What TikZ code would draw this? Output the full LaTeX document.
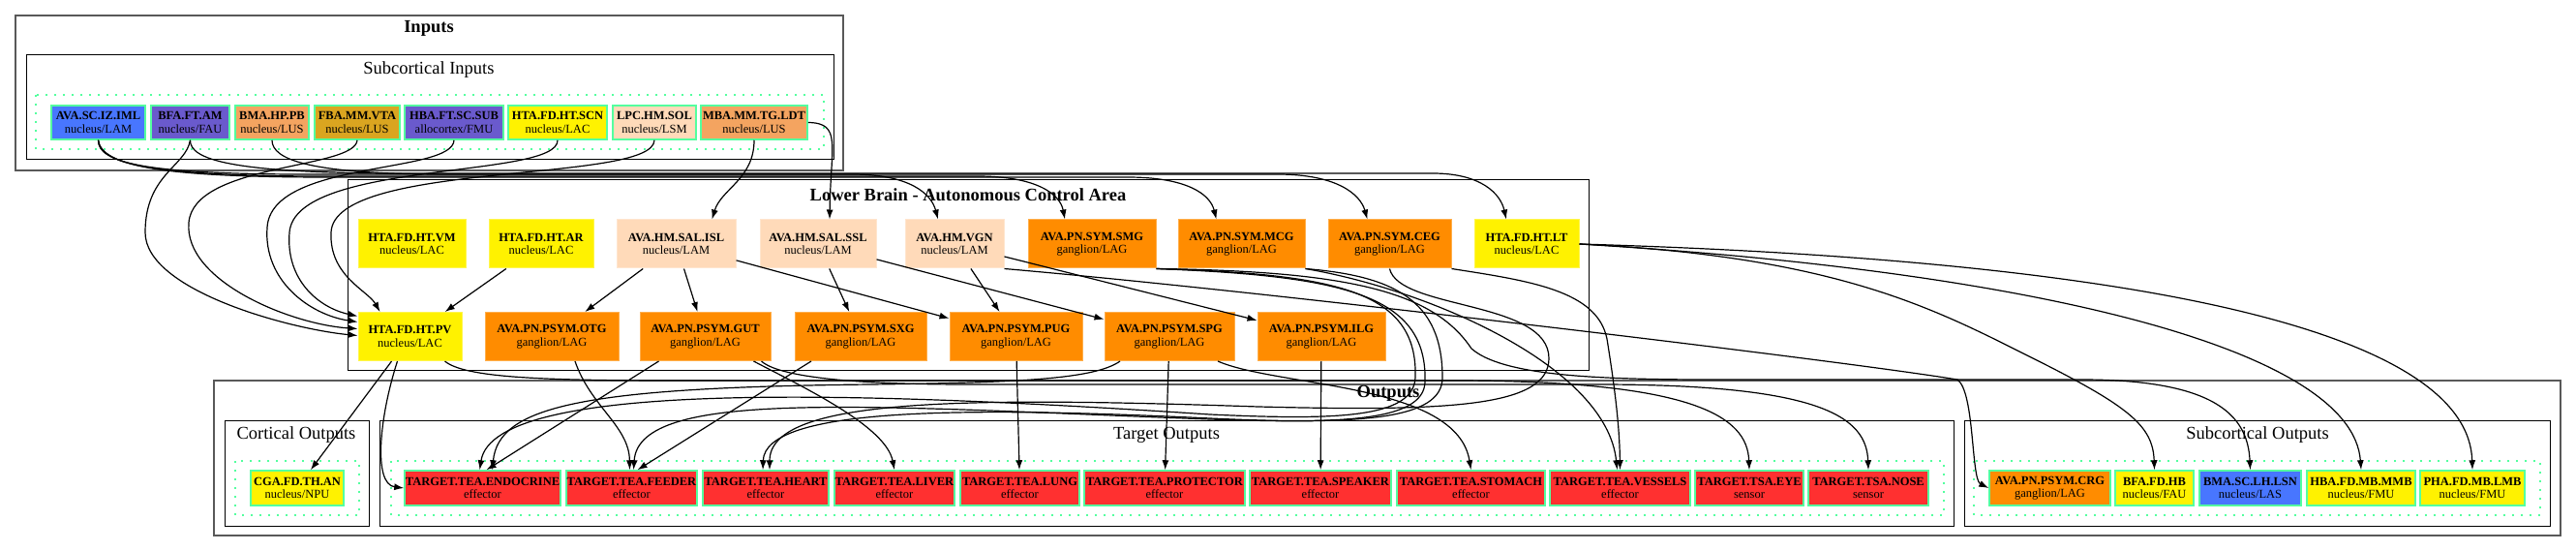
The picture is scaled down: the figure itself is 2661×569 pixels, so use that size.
\documentclass[tikz,border=0pt]{standalone}
\usepackage{fontspec}
\setmainfont{Liberation Serif}
\usepackage{tikz}
\usetikzlibrary{calc,arrows.meta}
\definecolor{royalblue}{HTML}{4876FF}
\definecolor{slateblue}{HTML}{6A5ACD}
\definecolor{sandybrown}{HTML}{F4A460}
\definecolor{goldenrod}{HTML}{DAA520}
\definecolor{peachpuff}{HTML}{FFDAB9}
\definecolor{darkorange}{HTML}{FF8C00}
\definecolor{firebrick}{HTML}{FF3030}
\definecolor{seagreen}{HTML}{54FF9F}
\tikzset{
brainarea/.style={
  draw=black,
  line width=1pt
  },
outerarea/.style={
  draw=black!65,
  line width=1.8pt
  },
nodegroup/.style={
  draw=seagreen,
  line width=2pt,
  dash pattern=on 2pt off 7pt
  },
areatitle/.style={font=\fontsize{18.5}{20}\selectfont},
outertitle/.style={font=\fontsize{18.5}{20}\selectfont\bfseries},
srcnode/.style 2 args={
  draw=seagreen,
  line width=1.5pt,
  fill=#1,
  minimum width=#2pt,
  minimum height=35pt,
  inner sep=0pt,
  align=center,
  font=\fontsize{12.5}{13.5}\selectfont
  },
acanode/.style 2 args={
  srcnode={#1}{#2},
  draw=#1!70!white,
  line width=1pt,
  minimum height=50pt
  },
outnode/.style 2 args={
  srcnode={#1}{#2},
  minimum height=36pt
  },
link/.style={->,line width=1.2pt}
}

\begin{document}
\begin{tikzpicture}[>={Latex[length=10pt,width=7pt]},x=1pt,y=-1pt]
    \useasboundingbox (0,0) rectangle (2661,569);
    % clusters
    \draw[outerarea] (16,16) rectangle (871,176);
    \draw[brainarea] (27,57) rectangle (861,165);
    \draw[nodegroup] (37,98) rectangle (851,154);
    \draw[brainarea] (359,186) rectangle (1641,382);
    \draw[outerarea] (221,393) rectangle (2645,553);
    \draw[brainarea] (232,434) rectangle (381,543);
    \draw[nodegroup] (243,476) rectangle (371,532);
    \draw[brainarea] (392,434) rectangle (2018,543);
    \draw[nodegroup] (404,476) rectangle (2008,532);
    \draw[brainarea] (2029,434) rectangle (2634,543);
    \draw[nodegroup] (2039,476) rectangle (2624,532);
    \node[outertitle] (intitle) at (443,29) {Inputs};
    \node[areatitle] (subintitle) at (443,72) {Subcortical Inputs};
    \node[outertitle] (lbtitle) at (1000,201) {Lower Brain - Autonomous Control Area};
    \node[outertitle] (outtitle) at (1434,406) {Outputs};
    \node[areatitle] (cortitle) at (306,449) {Cortical Outputs};
    \node[areatitle] (tgttitle) at (1205,449) {Target Outputs};
    \node[areatitle] (subouttitle) at (2332,449) {Subcortical Outputs};
    % inputs
    \node[srcnode={royalblue}{97}] (iml) at (101.5,126.5) {\textbf{AVA.SC.IZ.IML}\\nucleus/LAM};
    \node[srcnode={slateblue}{81}] (bfa) at (196.5,126.5) {\textbf{BFA.FT.AM}\\nucleus/FAU};
    \node[srcnode={sandybrown}{76}] (bma) at (281,126.5) {\textbf{BMA.HP.PB}\\nucleus/LUS};
    \node[srcnode={goldenrod}{88}] (fba) at (369,126.5) {\textbf{FBA.MM.VTA}\\nucleus/LUS};
    \node[srcnode={slateblue}{102}] (hba) at (469,126.5) {\textbf{HBA.FT.SC.SUB}\\allocortex/FMU};
    \node[srcnode={yellow}{102}] (scn) at (576,126.5) {\textbf{HTA.FD.HT.SCN}\\nucleus/LAC};
    \node[srcnode={peachpuff}{86}] (sol) at (676,126.5) {\textbf{LPC.HM.SOL}\\nucleus/LSM};
    \node[srcnode={sandybrown}{110}] (ldt) at (779,126.5) {\textbf{MBA.MM.TG.LDT}\\nucleus/LUS};
    % lower brain
    \node[acanode={yellow}{111}] (vm) at (425.5,252) {\textbf{HTA.FD.HT.VM}\\nucleus/LAC};
    \node[acanode={yellow}{108}] (ar) at (559,252) {\textbf{HTA.FD.HT.AR}\\nucleus/LAC};
    \node[acanode={peachpuff}{123}] (isl) at (698.5,252) {\textbf{AVA.HM.SAL.ISL}\\nucleus/LAM};
    \node[acanode={peachpuff}{120}] (ssl) at (845,252) {\textbf{AVA.HM.SAL.SSL}\\nucleus/LAM};
    \node[acanode={peachpuff}{102}] (vgn) at (986,252) {\textbf{AVA.HM.VGN}\\nucleus/LAM};
    \node[acanode={darkorange}{132}] (smg) at (1128,252) {\textbf{AVA.PN.SYM.SMG}\\ganglion/LAG};
    \node[acanode={darkorange}{131}] (mcg) at (1282.5,252) {\textbf{AVA.PN.SYM.MCG}\\ganglion/LAG};
    \node[acanode={darkorange}{127}] (ceg) at (1435.5,252) {\textbf{AVA.PN.SYM.CEG}\\ganglion/LAG};
    \node[acanode={yellow}{108}] (lt) at (1577,252) {\textbf{HTA.FD.HT.LT}\\nucleus/LAC};
    \node[acanode={yellow}{107}] (pv) at (423.5,347.5) {\textbf{HTA.FD.HT.PV}\\nucleus/LAC};
    \node[acanode={darkorange}{138}] (otg) at (570,347.5) {\textbf{AVA.PN.PSYM.OTG}\\ganglion/LAG};
    \node[acanode={darkorange}{135}] (gut) at (728.5,347.5) {\textbf{AVA.PN.PSYM.GUT}\\ganglion/LAG};
    \node[acanode={darkorange}{136}] (sxg) at (889,347.5) {\textbf{AVA.PN.PSYM.SXG}\\ganglion/LAG};
    \node[acanode={darkorange}{137}] (pug) at (1049.5,347.5) {\textbf{AVA.PN.PSYM.PUG}\\ganglion/LAG};
    \node[acanode={darkorange}{134}] (spg) at (1208,347.5) {\textbf{AVA.PN.PSYM.SPG}\\ganglion/LAG};
    \node[acanode={darkorange}{132}] (ilg) at (1365,347.5) {\textbf{AVA.PN.PSYM.ILG}\\ganglion/LAG};
    % outputs
    \node[outnode={yellow}{96}] (cga) at (307,504) {\textbf{CGA.FD.TH.AN}\\nucleus/NPU};
    \node[outnode={firebrick}{161}] (endocrine) at (498.5,504) {\textbf{TARGET.TEA.ENDOCRINE}\\effector};
    \node[outnode={firebrick}{135}] (feeder) at (652.5,504) {\textbf{TARGET.TEA.FEEDER}\\effector};
    \node[outnode={firebrick}{130}] (heart) at (791,504) {\textbf{TARGET.TEA.HEART}\\effector};
    \node[outnode={firebrick}{124}] (liver) at (924,504) {\textbf{TARGET.TEA.LIVER}\\effector};
    \node[outnode={firebrick}{123}] (lung) at (1053.5,504) {\textbf{TARGET.TEA.LUNG}\\effector};
    \node[outnode={firebrick}{166}] (protector) at (1203,504) {\textbf{TARGET.TEA.PROTECTOR}\\effector};
    \node[outnode={firebrick}{146}] (speaker) at (1364,504) {\textbf{TARGET.TEA.SPEAKER}\\effector};
    \node[outnode={firebrick}{153}] (stomach) at (1519.5,504) {\textbf{TARGET.TEA.STOMACH}\\effector};
    \node[outnode={firebrick}{145}] (vessels) at (1673.5,504) {\textbf{TARGET.TEA.VESSELS}\\effector};
    \node[outnode={firebrick}{112}] (eye) at (1807,504) {\textbf{TARGET.TSA.EYE}\\sensor};
    \node[outnode={firebrick}{124}] (nose) at (1930,504) {\textbf{TARGET.TSA.NOSE}\\sensor};
    \node[outnode={darkorange}{125}] (crg) at (2117.5,504) {\textbf{AVA.PN.PSYM.CRG}\\ganglion/LAG};
    \node[outnode={yellow}{81}] (hb) at (2225.5,504) {\textbf{BFA.FD.HB}\\nucleus/FAU};
    \node[outnode={royalblue}{105}] (lsn) at (2324.5,504) {\textbf{BMA.SC.LH.LSN}\\nucleus/LAS};
    \node[outnode={yellow}{112}] (mmb) at (2439,504) {\textbf{HBA.FD.MB.MMB}\\nucleus/FMU};
    \node[outnode={yellow}{108}] (lmb) at (2554,504) {\textbf{PHA.FD.MB.LMB}\\nucleus/FMU};
    % inputs to lower brain
    \draw[link] (iml.south) .. controls (101,168) and (150,179) .. (300,180) -- (880,180) .. controls (940,180) and (962,200) .. ([xshift=-17pt]vgn.north);
    \draw[link] (iml.south) .. controls (103,170) and (160,181) .. (320,182) -- (1010,182) .. controls (1070,182) and (1095,200) .. ([xshift=-28pt]smg.north);
    \draw[link] (iml.south) .. controls (105,172) and (170,183) .. (340,183) -- (1165,183) .. controls (1225,183) and (1250,200) .. ([xshift=-26pt]mcg.north);
    \draw[link] (bma.south) .. controls (281,165) and (320,179) .. (450,180) -- (1320,180) .. controls (1380,180) and (1405,200) .. ([xshift=-23pt]ceg.north);
    \draw[link] (bfa.south) .. controls (196,165) and (240,178) .. (400,179) -- (1480,179) .. controls (1530,179) and (1550,200) .. ([xshift=-21pt]lt.north);
    \draw[link] (bfa.south) .. controls (192,172) and (150,180) .. (150,240) .. controls (150,300) and (300,340) .. ([yshift=1pt]pv.west);
    \draw[link] (fba.south) .. controls (367,175) and (200,168) .. (195,230) .. controls (190,290) and (300,335) .. ([yshift=8pt]pv.west);
    \draw[link] (hba.south) .. controls (468,180) and (280,165) .. (276,235) .. controls (272,290) and (320,325) .. ([yshift=15pt]pv.west);
    \draw[link] (scn.south) .. controls (577,185) and (305,165) .. (299,240) .. controls (295,290) and (330,318) .. ([yshift=21pt]pv.west);
    \draw[link] (sol.south) .. controls (675,190) and (345,165) .. (342,240) .. controls (340,285) and (380,300) .. ([xshift=-31pt]pv.north);
    \draw[link] (ldt.south) .. controls (779,185) and (745,195) .. ([xshift=37pt]isl.north);
    \draw[link] (ldt.east) .. controls (870,127) and (858,150) .. ([xshift=12pt]ssl.north);
    % inside lower brain
    \draw[link] (ar) -- (pv);
    \draw[link] (isl) -- (otg);
    \draw[link] (isl) -- (gut);
    \draw[link] (isl) -- (pug);
    \draw[link] (ssl) -- (sxg);
    \draw[link] (ssl) -- (spg);
    \draw[link] (vgn) -- (pug);
    \draw[link] (vgn) -- (ilg);
    % lower brain to outputs
    \draw[link] (pv) -- (cga);
    \draw[link] ([xshift=-13pt]pv.south) .. controls (392,430) and (385,500) .. (endocrine.west);
    \draw[link] ([xshift=36pt]pv.south) .. controls (480,390) and (560,393) .. (700,393) -- (1500,393) .. controls (1750,393) and (1805,430) .. (eye.north);
    \draw[link] ([xshift=24pt]otg.south) .. controls (610,420) and (650,440) .. ([xshift=-2pt]feeder.north);
    \draw[link] ([xshift=-48pt]gut.south) -- ([xshift=4pt]endocrine.north);
    \draw[link] ([xshift=50pt]gut.south) .. controls (830,400) and (915,440) .. (liver.north);
    \draw[link] ([xshift=58pt]gut.south) .. controls (800,385) and (850,397) .. (1000,397) -- (1650,397) .. controls (1880,397) and (1928,430) .. (nose.north);
    \draw[link] ([xshift=-51pt]sxg.south) -- ([xshift=6pt]feeder.north);
    \draw[link] (pug) -- (lung);
    \draw[link] (spg) -- (protector);
    \draw[link] (ilg) -- (speaker);
    \draw[link] ([xshift=-51pt]spg.south) .. controls (1130,392) and (1050,395) .. (900,397) .. controls (600,400) and (515,420) .. ([xshift=10pt]endocrine.north);
    \draw[link] ([xshift=50pt]spg.south) .. controls (1320,400) and (1505,395) .. (stomach.north);
    \draw[link] (smg.south east) .. controls (1380,283) and (1465,300) .. (1462,390) .. controls (1460,432) and (1380,434) .. (1250,428) .. controls (900,405) and (510,390) .. ([xshift=-3pt]endocrine.north);
    \draw[link] (smg.south east) .. controls (1390,285) and (1475,305) .. (1472,395) .. controls (1470,436) and (1380,438) .. (1250,432) .. controls (1000,420) and (790,420) .. ([xshift=-3pt]heart.north);
    \draw[link] (mcg.south east) .. controls (1440,285) and (1490,310) .. (1490,390) .. controls (1490,435) and (1400,438) .. (1250,433) .. controls (900,420) and (660,400) .. ([xshift=2pt]feeder.north);
    \draw[link] (ceg.south) .. controls (1445,320) and (1600,310) .. (1600,370) .. controls (1600,420) and (1500,425) .. (1300,420) .. controls (1000,410) and (795,410) .. ([xshift=4pt]heart.north);
    \draw[link] (ceg.south east) .. controls (1580,290) and (1650,300) .. (1660,350) .. controls (1668,400) and (1673,440) .. (vessels.north);
    \draw[link] (mcg.south east) .. controls (1480,300) and (1660,380) .. ([xshift=-3pt]vessels.north);
    \draw[link] (vgn.south east) .. controls (1300,300) and (1900,372) .. (2022,392) .. controls (2040,405) and (2036,495) .. (crg.west);
    \draw[link] (smg.south east) .. controls (1390,280) and (1480,300) .. (1520,360) .. controls (1560,395) and (1700,392) .. (1850,392) -- (2150,392) .. controls (2290,392) and (2322,430) .. (lsn.north);
    \draw[link] (lt.east) .. controls (1900,265) and (2000,320) .. (2100,370) .. controls (2200,420) and (2224,440) .. (hb.north);
    \draw[link] (lt.east) .. controls (2100,280) and (2430,360) .. (mmb.north);
    \draw[link] (lt.east) .. controls (2250,270) and (2550,350) .. (lmb.north);
\end{tikzpicture}
\end{document}
